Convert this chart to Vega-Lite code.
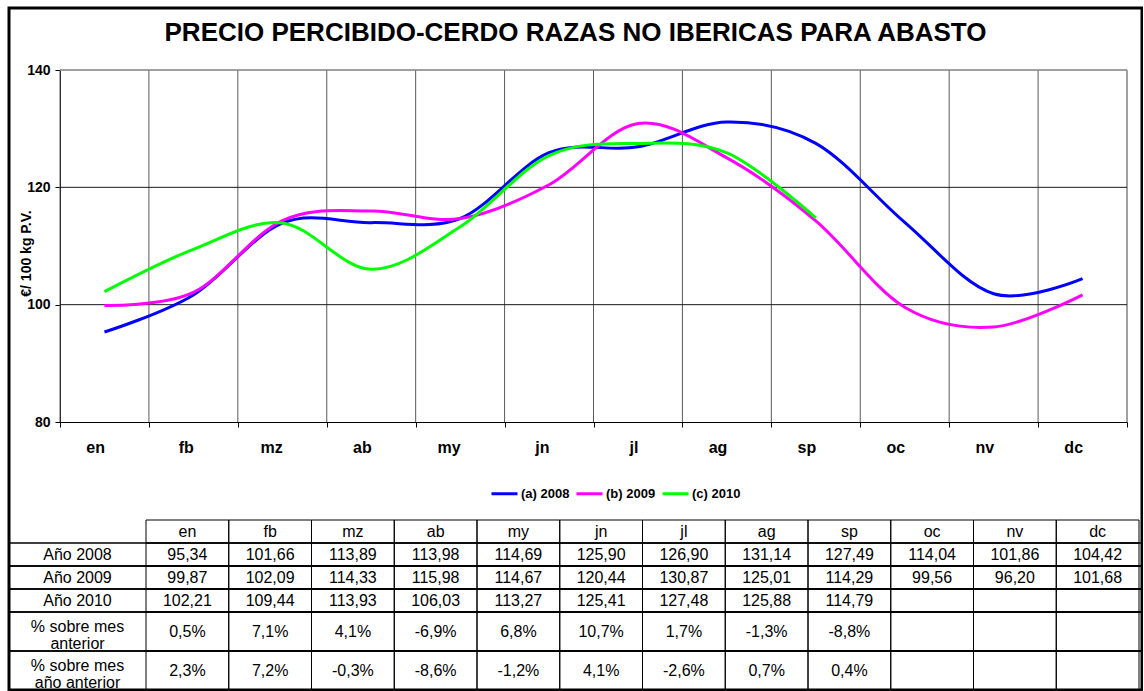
{
  "$schema": "https://vega.github.io/schema/vega-lite/v6.json",
  "width": 1133,
  "height": 682,
  "padding": {"left": 8, "top": 8, "right": 0, "bottom": 0},
  "autosize": {"type": "pad"},
  "background": "white",
  "title": {"text": "PRECIO PERCIBIDO-CERDO RAZAS NO IBERICAS PARA ABASTO", "frame": "group", "anchor": "middle", "offset": -59, "baseline": "alphabetic", "fontSize": 26, "font": "Liberation Sans", "fontWeight": "bold", "color": "black"},
  "datasets": {
    "precios": [
      {"mes": "en", "serie": "(a) 2008", "valor": 95.34}, {"mes": "fb", "serie": "(a) 2008", "valor": 101.66}, {"mes": "mz", "serie": "(a) 2008", "valor": 113.89}, {"mes": "ab", "serie": "(a) 2008", "valor": 113.98}, {"mes": "my", "serie": "(a) 2008", "valor": 114.69}, {"mes": "jn", "serie": "(a) 2008", "valor": 125.90}, {"mes": "jl", "serie": "(a) 2008", "valor": 126.90}, {"mes": "ag", "serie": "(a) 2008", "valor": 131.14}, {"mes": "sp", "serie": "(a) 2008", "valor": 127.49}, {"mes": "oc", "serie": "(a) 2008", "valor": 114.04}, {"mes": "nv", "serie": "(a) 2008", "valor": 101.86}, {"mes": "dc", "serie": "(a) 2008", "valor": 104.42},
      {"mes": "en", "serie": "(b) 2009", "valor": 99.87}, {"mes": "fb", "serie": "(b) 2009", "valor": 102.09}, {"mes": "mz", "serie": "(b) 2009", "valor": 114.33}, {"mes": "ab", "serie": "(b) 2009", "valor": 115.98}, {"mes": "my", "serie": "(b) 2009", "valor": 114.67}, {"mes": "jn", "serie": "(b) 2009", "valor": 120.44}, {"mes": "jl", "serie": "(b) 2009", "valor": 130.87}, {"mes": "ag", "serie": "(b) 2009", "valor": 125.01}, {"mes": "sp", "serie": "(b) 2009", "valor": 114.29}, {"mes": "oc", "serie": "(b) 2009", "valor": 99.56}, {"mes": "nv", "serie": "(b) 2009", "valor": 96.20}, {"mes": "dc", "serie": "(b) 2009", "valor": 101.68},
      {"mes": "en", "serie": "(c) 2010", "valor": 102.21}, {"mes": "fb", "serie": "(c) 2010", "valor": 109.44}, {"mes": "mz", "serie": "(c) 2010", "valor": 113.93}, {"mes": "ab", "serie": "(c) 2010", "valor": 106.03}, {"mes": "my", "serie": "(c) 2010", "valor": 113.27}, {"mes": "jn", "serie": "(c) 2010", "valor": 125.41}, {"mes": "jl", "serie": "(c) 2010", "valor": 127.48}, {"mes": "ag", "serie": "(c) 2010", "valor": 125.88}, {"mes": "sp", "serie": "(c) 2010", "valor": 114.79}, {"mes": "oc", "serie": "(c) 2010", "valor": null}, {"mes": "nv", "serie": "(c) 2010", "valor": null}, {"mes": "dc", "serie": "(c) 2010", "valor": null}
    ],
    "porcentajes": [
      {"mes": "en", "tipo": "anterior", "pct": 0.005}, {"mes": "fb", "tipo": "anterior", "pct": 0.071}, {"mes": "mz", "tipo": "anterior", "pct": 0.041}, {"mes": "ab", "tipo": "anterior", "pct": -0.069}, {"mes": "my", "tipo": "anterior", "pct": 0.068}, {"mes": "jn", "tipo": "anterior", "pct": 0.107}, {"mes": "jl", "tipo": "anterior", "pct": 0.017}, {"mes": "ag", "tipo": "anterior", "pct": -0.013}, {"mes": "sp", "tipo": "anterior", "pct": -0.088}, {"mes": "oc", "tipo": "anterior", "pct": null}, {"mes": "nv", "tipo": "anterior", "pct": null}, {"mes": "dc", "tipo": "anterior", "pct": null},
      {"mes": "en", "tipo": "interanual", "pct": 0.023}, {"mes": "fb", "tipo": "interanual", "pct": 0.072}, {"mes": "mz", "tipo": "interanual", "pct": -0.003}, {"mes": "ab", "tipo": "interanual", "pct": -0.086}, {"mes": "my", "tipo": "interanual", "pct": -0.012}, {"mes": "jn", "tipo": "interanual", "pct": 0.041}, {"mes": "jl", "tipo": "interanual", "pct": -0.026}, {"mes": "ag", "tipo": "interanual", "pct": 0.007}, {"mes": "sp", "tipo": "interanual", "pct": 0.004}, {"mes": "oc", "tipo": "interanual", "pct": null}, {"mes": "nv", "tipo": "interanual", "pct": null}, {"mes": "dc", "tipo": "interanual", "pct": null}
    ],
    "filas": [
      {"fila": "(a) 2008", "etiqueta": "Año 2008"},
      {"fila": "(b) 2009", "etiqueta": "Año 2009"},
      {"fila": "(c) 2010", "etiqueta": "Año 2010"}
    ],
    "filasPct": [
      {"fila": "anterior", "etiqueta": "% sobre mes\nanterior"},
      {"fila": "interanual", "etiqueta": "% sobre mes\naño anterior"}
    ],
    "niveles": [{"nivel": 100}, {"nivel": 120}],
    "uno": [{"k": 1}]
  },
  "resolve": {"scale": {"x": "independent", "y": "independent"}},
  "layer": [
    {
      "layer": [
        {
          "data": {"name": "precios"},
          "transform": [{"filter": "datum.serie === '(a) 2008'"}],
          "mark": {"type": "rule", "color": "#5a5a5a", "strokeWidth": 1},
          "encoding": {
            "x": {"field": "mes", "type": "nominal", "bandPosition": 0, "scale": {"domain": ["en","fb","mz","ab","my","jn","jl","ag","sp","oc","nv","dc"], "range": [51, 1118], "paddingInner": 0, "paddingOuter": 0}},
            "y": {"datum": 80, "type": "quantitative", "scale": {"domain": [80, 140], "range": [414, 62], "nice": false, "zero": false}},
            "y2": {"datum": 140}
          }
        },
        {
          "data": {"name": "uno"},
          "mark": {"type": "rule", "color": "#808080", "strokeWidth": 1.5},
          "encoding": {
            "x": {"datum": "dc", "type": "nominal", "bandPosition": 1},
            "y": {"datum": 80, "type": "quantitative"},
            "y2": {"datum": 140}
          }
        },
        {
          "data": {"name": "niveles"},
          "mark": {"type": "rule", "color": "#1a1a1a", "strokeWidth": 1},
          "encoding": {
            "y": {"field": "nivel", "type": "quantitative"},
            "x": {"datum": "en", "type": "nominal", "bandPosition": 0},
            "x2": {"datum": "dc", "bandPosition": 1}
          }
        },
        {
          "data": {"name": "uno"},
          "mark": {"type": "rule", "color": "#808080", "strokeWidth": 1.5},
          "encoding": {
            "y": {"datum": 140, "type": "quantitative"},
            "x": {"datum": "en", "type": "nominal", "bandPosition": 0},
            "x2": {"datum": "dc", "bandPosition": 1}
          }
        },
        {
          "data": {"name": "precios"},
          "mark": {"type": "line", "interpolate": "cardinal", "tension": 0, "strokeWidth": 3},
          "encoding": {
            "x": {"field": "mes", "type": "nominal", "sort": null,
              "scale": {"domain": ["en","fb","mz","ab","my","jn","jl","ag","sp","oc","nv","dc"], "range": [51, 1118], "paddingInner": 0, "paddingOuter": 0},
              "axis": {"title": null, "orient": "bottom", "offset": -268, "tickBand": "extent", "tickSize": 5, "tickColor": "black", "domainColor": "black", "labelFont": "Liberation Sans", "labelFontSize": 16, "labelFontWeight": "bold", "labelColor": "black", "labelPadding": 20, "labelAngle": 0, "grid": false}},
            "y": {"field": "valor", "type": "quantitative",
              "scale": {"domain": [80, 140], "range": [414, 62], "nice": false, "zero": false},
              "axis": {"title": "€/ 100 kg P.V.", "orient": "left", "offset": -51, "values": [80, 100, 120, 140], "tickSize": 5, "tickColor": "black", "domainColor": "black", "labelFont": "Liberation Sans", "labelFontSize": 14, "labelFontWeight": "bold", "labelColor": "black", "labelPadding": 5, "grid": false, "titleFont": "Liberation Sans", "titleFontSize": 14, "titleFontWeight": "bold", "titleColor": "black", "titleX": -34, "titleY": 245, "titleBaseline": "middle"}},
            "color": {"field": "serie", "type": "nominal",
              "scale": {"domain": ["(a) 2008", "(b) 2009", "(c) 2010"], "range": ["#0000FF", "#FF00FF", "#00FF00"]},
              "legend": {"title": null, "orient": "none", "legendX": 481, "legendY": 471, "direction": "horizontal", "symbolType": "stroke", "symbolSize": 676, "symbolStrokeWidth": 3, "labelFont": "Liberation Sans", "labelFontSize": 13, "labelFontWeight": "bold", "labelColor": "black", "labelOffset": 2, "columnPadding": 0, "padding": 0}}
          }
        }
      ]
    },
    {
      "resolve": {"scale": {"x": "independent"}},
      "layer": [
        {
          "data": {"name": "filas"},
          "layer": [
            {
              "mark": {"type": "rect", "filled": false, "stroke": "black", "strokeWidth": 1.5},
              "encoding": {
                "y": {"field": "fila", "type": "nominal", "axis": null, "scale": {"domain": ["mes", "(a) 2008", "(b) 2009", "(c) 2010"], "range": [512, 604], "paddingInner": 0, "paddingOuter": 0}}
              }
            },
            {
              "mark": {"type": "text", "font": "Liberation Sans", "fontSize": 16, "color": "black", "align": "center", "baseline": "middle"},
              "encoding": {
                "y": {"field": "fila", "type": "nominal", "axis": null, "scale": {"domain": ["mes", "(a) 2008", "(b) 2009", "(c) 2010"], "range": [512, 604], "paddingInner": 0, "paddingOuter": 0}},
                "x": {"datum": "L", "type": "nominal", "axis": null, "scale": {"domain": ["L"], "range": [0, 137], "paddingInner": 0, "paddingOuter": 0}},
                "text": {"field": "etiqueta"}
              }
            }
          ]
        },
        {
          "data": {"name": "precios"},
          "layer": [
            {
              "transform": [{"filter": "datum.serie === '(a) 2008'"}],
              "mark": {"type": "rect", "filled": false, "stroke": "black", "strokeWidth": 1},
              "encoding": {
                "x": {"field": "mes", "type": "nominal", "axis": null, "scale": {"domain": ["en","fb","mz","ab","my","jn","jl","ag","sp","oc","nv","dc"], "range": [137, 1130], "paddingInner": 0, "paddingOuter": 0}},
                "y": {"datum": "mes", "type": "nominal", "axis": null, "scale": {"domain": ["mes", "(a) 2008", "(b) 2009", "(c) 2010"], "range": [512, 604], "paddingInner": 0, "paddingOuter": 0}}
              }
            },
            {
              "transform": [{"filter": "datum.serie === '(a) 2008'"}],
              "mark": {"type": "text", "font": "Liberation Sans", "fontSize": 16, "color": "black", "align": "center", "baseline": "middle"},
              "encoding": {
                "x": {"field": "mes", "type": "nominal", "axis": null, "scale": {"domain": ["en","fb","mz","ab","my","jn","jl","ag","sp","oc","nv","dc"], "range": [137, 1130], "paddingInner": 0, "paddingOuter": 0}},
                "y": {"datum": "mes", "type": "nominal", "axis": null, "scale": {"domain": ["mes", "(a) 2008", "(b) 2009", "(c) 2010"], "range": [512, 604], "paddingInner": 0, "paddingOuter": 0}},
                "text": {"field": "mes"}
              }
            },
            {
              "mark": {"type": "rect", "filled": false, "stroke": "black", "strokeWidth": 1},
              "encoding": {
                "x": {"field": "mes", "type": "nominal", "axis": null, "scale": {"domain": ["en","fb","mz","ab","my","jn","jl","ag","sp","oc","nv","dc"], "range": [137, 1130], "paddingInner": 0, "paddingOuter": 0}},
                "y": {"field": "serie", "type": "nominal", "axis": null, "scale": {"domain": ["mes", "(a) 2008", "(b) 2009", "(c) 2010"], "range": [512, 604], "paddingInner": 0, "paddingOuter": 0}}
              }
            },
            {
              "transform": [{"filter": "isValid(datum.valor)"}],
              "mark": {"type": "text", "font": "Liberation Sans", "fontSize": 16, "color": "black", "align": "center", "baseline": "middle"},
              "encoding": {
                "x": {"field": "mes", "type": "nominal", "axis": null, "scale": {"domain": ["en","fb","mz","ab","my","jn","jl","ag","sp","oc","nv","dc"], "range": [137, 1130], "paddingInner": 0, "paddingOuter": 0}},
                "y": {"field": "serie", "type": "nominal", "axis": null, "scale": {"domain": ["mes", "(a) 2008", "(b) 2009", "(c) 2010"], "range": [512, 604], "paddingInner": 0, "paddingOuter": 0}},
                "text": {"field": "valor", "type": "quantitative", "format": ".2f"}
              }
            }
          ]
        }
      ]
    },
    {
      "resolve": {"scale": {"x": "independent"}},
      "layer": [
        {
          "data": {"name": "filasPct"},
          "layer": [
            {
              "mark": {"type": "rect", "filled": false, "stroke": "black", "strokeWidth": 1.5},
              "encoding": {
                "y": {"field": "fila", "type": "nominal", "axis": null, "scale": {"domain": ["anterior", "interanual"], "range": [604, 682], "paddingInner": 0, "paddingOuter": 0}}
              }
            },
            {
              "mark": {"type": "text", "font": "Liberation Sans", "fontSize": 16, "color": "black", "align": "center", "baseline": "middle", "lineBreak": "\n", "lineHeight": 17, "dy": -5},
              "encoding": {
                "y": {"field": "fila", "type": "nominal", "axis": null, "scale": {"domain": ["anterior", "interanual"], "range": [604, 682], "paddingInner": 0, "paddingOuter": 0}},
                "x": {"datum": "L", "type": "nominal", "axis": null, "scale": {"domain": ["L"], "range": [0, 137], "paddingInner": 0, "paddingOuter": 0}},
                "text": {"field": "etiqueta"}
              }
            }
          ]
        },
        {
          "data": {"name": "porcentajes"},
          "layer": [
            {
              "mark": {"type": "rect", "filled": false, "stroke": "black", "strokeWidth": 1},
              "encoding": {
                "x": {"field": "mes", "type": "nominal", "axis": null, "scale": {"domain": ["en","fb","mz","ab","my","jn","jl","ag","sp","oc","nv","dc"], "range": [137, 1130], "paddingInner": 0, "paddingOuter": 0}},
                "y": {"field": "tipo", "type": "nominal", "axis": null, "scale": {"domain": ["anterior", "interanual"], "range": [604, 682], "paddingInner": 0, "paddingOuter": 0}}
              }
            },
            {
              "transform": [{"filter": "isValid(datum.pct)"}],
              "mark": {"type": "text", "font": "Liberation Sans", "fontSize": 16, "color": "black", "align": "center", "baseline": "middle"},
              "encoding": {
                "x": {"field": "mes", "type": "nominal", "axis": null, "scale": {"domain": ["en","fb","mz","ab","my","jn","jl","ag","sp","oc","nv","dc"], "range": [137, 1130], "paddingInner": 0, "paddingOuter": 0}},
                "y": {"field": "tipo", "type": "nominal", "axis": null, "scale": {"domain": ["anterior", "interanual"], "range": [604, 682], "paddingInner": 0, "paddingOuter": 0}},
                "text": {"field": "pct", "type": "quantitative", "format": ".1%"}
              }
            }
          ]
        }
      ]
    }
  ],
  "config": {
    "font": "Liberation Sans",
    "view": {"stroke": "black", "strokeWidth": 3},
    "locale": {"number": {"decimal": ",", "thousands": ".", "grouping": [3], "currency": ["", " €"], "minus": "-"}}
  }
}
